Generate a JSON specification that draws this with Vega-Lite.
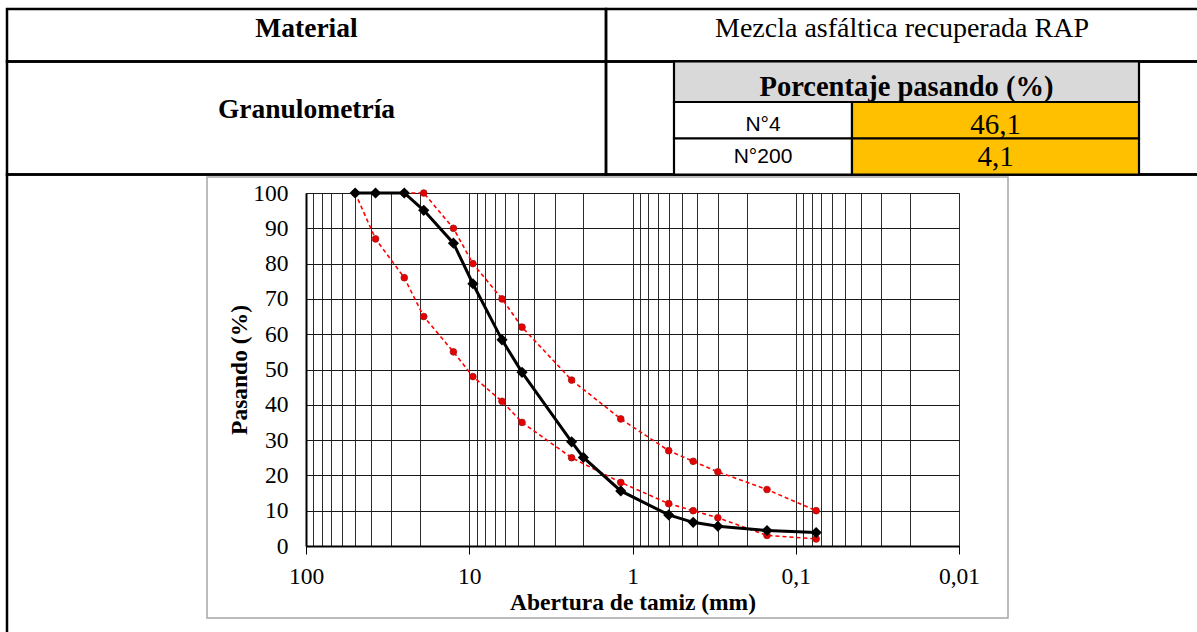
{
  "$schema": "https://vega.github.io/schema/vega-lite/v6.json",
  "width": 653,
  "height": 353,
  "autosize": {"type": "none"},
  "padding": {"left": 306, "top": 193, "right": 238, "bottom": 86},
  "background": "white",
  "config": {"view": {"stroke": "#808080", "strokeWidth": 1}},
  "resolve": {"scale": {"x": "independent", "y": "independent"}, "axis": {"x": "independent", "y": "independent"}},
  "layer": [
    {
      "layer": [
        {
          "data": {"values": [
            {"celda": "Material", "x0": 0, "x1": 3, "y0": 0, "y1": 2},
            {"celda": "Mezcla", "x0": 3, "x1": 12, "y0": 0, "y1": 2},
            {"celda": "Granulometría", "x0": 0, "x1": 3, "y0": 2, "y1": 9},
            {"celda": "Porcentaje", "x0": 3, "x1": 12, "y0": 2, "y1": 9},
            {"celda": "Gráfico", "x0": 0, "x1": 12, "y0": 9, "y1": 12}
          ]},
          "mark": {"type": "rect", "fill": "white", "fillOpacity": 0, "stroke": "black", "strokeWidth": 2.5},
          "encoding": {
            "x": {"field": "x0", "type": "quantitative", "axis": null, "scale": {"type": "linear", "domain": [0,1,2,3,4,5,6,7,8,9,10,11,12], "range": [-299,-99,0.5,300,368,457,546,596,600.5,689.5,702,833,909], "nice": false, "zero": false}},
            "x2": {"field": "x1"},
            "y": {"field": "y0", "type": "quantitative", "axis": null, "scale": {"type": "linear", "domain": [0,1,2,3,4,5,6,7,8,9,10,11,12], "range": [-184,-164.5,-131.5,-106.5,-91,-83,-68.5,-54.5,-36,-18.5,-16,425,457], "nice": false, "zero": false}},
            "y2": {"field": "y1"}
          }
        },
        {
          "data": {"values": [
            {"celda": "Marco del gráfico", "x0": 1, "x1": 10, "y0": 10, "y1": 11}
          ]},
          "mark": {"type": "rect", "fill": "white", "fillOpacity": 0, "stroke": "#A6A6A6", "strokeWidth": 1.5},
          "encoding": {
            "x": {"field": "x0", "type": "quantitative", "axis": null, "scale": {"type": "linear", "domain": [0,1,2,3,4,5,6,7,8,9,10,11,12], "range": [-299,-99,0.5,300,368,457,546,596,600.5,689.5,702,833,909], "nice": false, "zero": false}},
            "x2": {"field": "x1"},
            "y": {"field": "y0", "type": "quantitative", "axis": null, "scale": {"type": "linear", "domain": [0,1,2,3,4,5,6,7,8,9,10,11,12], "range": [-184,-164.5,-131.5,-106.5,-91,-83,-68.5,-54.5,-36,-18.5,-16,425,457], "nice": false, "zero": false}},
            "y2": {"field": "y1"}
          }
        },
        {
          "data": {"values": [
            {"celda": "Porcentaje pasando (%)", "rol": "encabezado", "x0": 4, "x1": 11, "y0": 2, "y1": 4},
            {"celda": "N°4", "rol": "tamiz", "x0": 4, "x1": 6, "y0": 4, "y1": 7},
            {"celda": "46,1", "rol": "valor", "x0": 6, "x1": 11, "y0": 4, "y1": 7},
            {"celda": "N°200", "rol": "tamiz", "x0": 4, "x1": 6, "y0": 7, "y1": 9},
            {"celda": "4,1", "rol": "valor", "x0": 6, "x1": 11, "y0": 7, "y1": 9}
          ]},
          "mark": {"type": "rect", "stroke": "black", "strokeWidth": 2.2, "opacity": 1},
          "encoding": {
            "x": {"field": "x0", "type": "quantitative", "axis": null, "scale": {"type": "linear", "domain": [0,1,2,3,4,5,6,7,8,9,10,11,12], "range": [-299,-99,0.5,300,368,457,546,596,600.5,689.5,702,833,909], "nice": false, "zero": false}},
            "x2": {"field": "x1"},
            "y": {"field": "y0", "type": "quantitative", "axis": null, "scale": {"type": "linear", "domain": [0,1,2,3,4,5,6,7,8,9,10,11,12], "range": [-184,-164.5,-131.5,-106.5,-91,-83,-68.5,-54.5,-36,-18.5,-16,425,457], "nice": false, "zero": false}},
            "y2": {"field": "y1"},
            "fill": {"field": "rol", "type": "nominal", "legend": null, "scale": {"domain": ["encabezado", "tamiz", "valor"], "range": ["#D9D9D9", "#FFFFFF", "#FFC000"]}}
          }
        },
        {
          "data": {"values": [
            {"texto": "Material", "xi": 2, "yi": 1},
            {"texto": "Granulometría", "xi": 2, "yi": 5}
          ]},
          "mark": {"type": "text", "font": "Liberation Serif", "fontWeight": "bold", "fontSize": 27.5, "align": "center", "baseline": "middle", "color": "black"},
          "encoding": {
            "x": {"field": "xi", "type": "quantitative", "axis": null, "scale": {"type": "linear", "domain": [0,1,2,3,4,5,6,7,8,9,10,11,12], "range": [-299,-99,0.5,300,368,457,546,596,600.5,689.5,702,833,909], "nice": false, "zero": false}},
            "y": {"field": "yi", "type": "quantitative", "axis": null, "scale": {"type": "linear", "domain": [0,1,2,3,4,5,6,7,8,9,10,11,12], "range": [-184,-164.5,-131.5,-106.5,-91,-83,-68.5,-54.5,-36,-18.5,-16,425,457], "nice": false, "zero": false}},
            "text": {"field": "texto"}
          }
        },
        {
          "data": {"values": [
            {"texto": "Mezcla asfáltica recuperada RAP", "xi": 7, "yi": 1}
          ]},
          "mark": {"type": "text", "font": "Liberation Serif", "fontSize": 28, "align": "center", "baseline": "middle", "color": "black"},
          "encoding": {
            "x": {"field": "xi", "type": "quantitative", "axis": null, "scale": {"type": "linear", "domain": [0,1,2,3,4,5,6,7,8,9,10,11,12], "range": [-299,-99,0.5,300,368,457,546,596,600.5,689.5,702,833,909], "nice": false, "zero": false}},
            "y": {"field": "yi", "type": "quantitative", "axis": null, "scale": {"type": "linear", "domain": [0,1,2,3,4,5,6,7,8,9,10,11,12], "range": [-184,-164.5,-131.5,-106.5,-91,-83,-68.5,-54.5,-36,-18.5,-16,425,457], "nice": false, "zero": false}},
            "text": {"field": "texto"}
          }
        },
        {
          "data": {"values": [
            {"texto": "Porcentaje pasando (%)", "xi": 8, "yi": 3}
          ]},
          "mark": {"type": "text", "font": "Liberation Serif", "fontWeight": "bold", "fontSize": 28.5, "align": "center", "baseline": "middle", "color": "black"},
          "encoding": {
            "x": {"field": "xi", "type": "quantitative", "axis": null, "scale": {"type": "linear", "domain": [0,1,2,3,4,5,6,7,8,9,10,11,12], "range": [-299,-99,0.5,300,368,457,546,596,600.5,689.5,702,833,909], "nice": false, "zero": false}},
            "y": {"field": "yi", "type": "quantitative", "axis": null, "scale": {"type": "linear", "domain": [0,1,2,3,4,5,6,7,8,9,10,11,12], "range": [-184,-164.5,-131.5,-106.5,-91,-83,-68.5,-54.5,-36,-18.5,-16,425,457], "nice": false, "zero": false}},
            "text": {"field": "texto"}
          }
        },
        {
          "data": {"values": [
            {"texto": "N°4", "xi": 5, "yi": 6},
            {"texto": "N°200", "xi": 5, "yi": 8}
          ]},
          "mark": {"type": "text", "font": "Liberation Sans", "fontSize": 21, "align": "center", "baseline": "middle", "color": "black"},
          "encoding": {
            "x": {"field": "xi", "type": "quantitative", "axis": null, "scale": {"type": "linear", "domain": [0,1,2,3,4,5,6,7,8,9,10,11,12], "range": [-299,-99,0.5,300,368,457,546,596,600.5,689.5,702,833,909], "nice": false, "zero": false}},
            "y": {"field": "yi", "type": "quantitative", "axis": null, "scale": {"type": "linear", "domain": [0,1,2,3,4,5,6,7,8,9,10,11,12], "range": [-184,-164.5,-131.5,-106.5,-91,-83,-68.5,-54.5,-36,-18.5,-16,425,457], "nice": false, "zero": false}},
            "text": {"field": "texto"}
          }
        },
        {
          "data": {"values": [
            {"texto": "46,1", "xi": 9, "yi": 6},
            {"texto": "4,1", "xi": 9, "yi": 8}
          ]},
          "mark": {"type": "text", "font": "Liberation Serif", "fontSize": 29, "align": "center", "baseline": "middle", "color": "black"},
          "encoding": {
            "x": {"field": "xi", "type": "quantitative", "axis": null, "scale": {"type": "linear", "domain": [0,1,2,3,4,5,6,7,8,9,10,11,12], "range": [-299,-99,0.5,300,368,457,546,596,600.5,689.5,702,833,909], "nice": false, "zero": false}},
            "y": {"field": "yi", "type": "quantitative", "axis": null, "scale": {"type": "linear", "domain": [0,1,2,3,4,5,6,7,8,9,10,11,12], "range": [-184,-164.5,-131.5,-106.5,-91,-83,-68.5,-54.5,-36,-18.5,-16,425,457], "nice": false, "zero": false}},
            "text": {"field": "texto"}
          }
        }
      ]
    },
    {
      "data": {"values": [
        {"serie": "RAP", "abertura": 50, "pasando": 100},
        {"serie": "RAP", "abertura": 37.5, "pasando": 100},
        {"serie": "RAP", "abertura": 25, "pasando": 100},
        {"serie": "RAP", "abertura": 19, "pasando": 95.1},
        {"serie": "RAP", "abertura": 12.5, "pasando": 85.8},
        {"serie": "RAP", "abertura": 9.5, "pasando": 74.3},
        {"serie": "RAP", "abertura": 6.3, "pasando": 58.4},
        {"serie": "RAP", "abertura": 4.75, "pasando": 49.2},
        {"serie": "RAP", "abertura": 2.36, "pasando": 29.5},
        {"serie": "RAP", "abertura": 2.0, "pasando": 25.1},
        {"serie": "RAP", "abertura": 1.18, "pasando": 15.6},
        {"serie": "RAP", "abertura": 0.6, "pasando": 8.8},
        {"serie": "RAP", "abertura": 0.425, "pasando": 6.7},
        {"serie": "RAP", "abertura": 0.3, "pasando": 5.6},
        {"serie": "RAP", "abertura": 0.15, "pasando": 4.4},
        {"serie": "RAP", "abertura": 0.075, "pasando": 3.8},
        {"serie": "Límite superior", "abertura": 25, "pasando": 100},
        {"serie": "Límite superior", "abertura": 19, "pasando": 100},
        {"serie": "Límite superior", "abertura": 12.5, "pasando": 90},
        {"serie": "Límite superior", "abertura": 9.5, "pasando": 80},
        {"serie": "Límite superior", "abertura": 6.3, "pasando": 70},
        {"serie": "Límite superior", "abertura": 4.75, "pasando": 62},
        {"serie": "Límite superior", "abertura": 2.36, "pasando": 47},
        {"serie": "Límite superior", "abertura": 1.18, "pasando": 36},
        {"serie": "Límite superior", "abertura": 0.6, "pasando": 27},
        {"serie": "Límite superior", "abertura": 0.425, "pasando": 24},
        {"serie": "Límite superior", "abertura": 0.3, "pasando": 21},
        {"serie": "Límite superior", "abertura": 0.15, "pasando": 16},
        {"serie": "Límite superior", "abertura": 0.075, "pasando": 10},
        {"serie": "Límite inferior", "abertura": 50, "pasando": 100},
        {"serie": "Límite inferior", "abertura": 37.5, "pasando": 87},
        {"serie": "Límite inferior", "abertura": 25, "pasando": 76},
        {"serie": "Límite inferior", "abertura": 19, "pasando": 65},
        {"serie": "Límite inferior", "abertura": 12.5, "pasando": 55},
        {"serie": "Límite inferior", "abertura": 9.5, "pasando": 48},
        {"serie": "Límite inferior", "abertura": 6.3, "pasando": 41},
        {"serie": "Límite inferior", "abertura": 4.75, "pasando": 35},
        {"serie": "Límite inferior", "abertura": 2.36, "pasando": 25},
        {"serie": "Límite inferior", "abertura": 1.18, "pasando": 18},
        {"serie": "Límite inferior", "abertura": 0.6, "pasando": 12},
        {"serie": "Límite inferior", "abertura": 0.425, "pasando": 10},
        {"serie": "Límite inferior", "abertura": 0.3, "pasando": 8},
        {"serie": "Límite inferior", "abertura": 0.15, "pasando": 3},
        {"serie": "Límite inferior", "abertura": 0.075, "pasando": 2}
      ]},
      "encoding": {
        "x": {
          "field": "abertura", "type": "quantitative",
          "scale": {"type": "log", "domain": [0.01, 100], "reverse": true, "nice": false},
          "axis": {
            "orient": "bottom",
            "title": "Abertura de tamiz (mm)",
            "values": [100, 90, 80, 70, 60, 50, 40, 30, 20, 10, 9, 8, 7, 6, 5, 4, 3, 2, 1, 0.9, 0.8, 0.7, 0.6, 0.5, 0.4, 0.3, 0.2, 0.1, 0.09, 0.08, 0.07, 0.06, 0.05, 0.04, 0.03, 0.02, 0.01],
            "labelExpr": "indexof([100, 10, 1, 0.1, 0.01], datum.value) >= 0 ? replace(toString(datum.value), '.', ',') : ''",
            "labelOverlap": false,
            "labelFlush": false,
            "labelFont": "Liberation Serif",
            "labelFontSize": 23.5,
            "labelColor": "black",
            "labelPadding": 10,
            "tickSize": 8,
            "tickColor": "black",
            "tickWidth": 1,
            "tickOpacity": {"condition": {"test": "indexof([100, 10, 1, 0.1, 0.01], datum.value) >= 0", "value": 1}, "value": 0},
            "domainColor": "black",
            "domainWidth": 2,
            "grid": true,
            "gridColor": "#2b2b2b",
            "gridWidth": 1,
            "gridOpacity": 1,
            "titleFont": "Liberation Serif",
            "titleFontWeight": "bold",
            "titleFontSize": 23.5,
            "titleColor": "black",
            "titlePadding": 3
          }
        },
        "y": {
          "field": "pasando", "type": "quantitative",
          "scale": {"domain": [0, 100], "nice": false},
          "axis": {
            "orient": "left",
            "title": "Pasando (%)",
            "values": [0, 10, 20, 30, 40, 50, 60, 70, 80, 90, 100],
            "labelFont": "Liberation Serif",
            "labelFontSize": 23.5,
            "labelColor": "black",
            "labelPadding": 18,
            "ticks": false,
            "tickSize": 0,
            "domainColor": "black",
            "domainWidth": 2,
            "grid": true,
            "gridColor": "#1a1a1a",
            "gridWidth": 1,
            "gridOpacity": 1,
            "titleFont": "Liberation Serif",
            "titleFontWeight": "bold",
            "titleFontSize": 23.5,
            "titleColor": "black",
            "titlePadding": 1
          }
        }
      },
      "layer": [
        {
          "transform": [{"filter": "datum.serie !== 'RAP'"}],
          "mark": {"type": "line", "color": "#FF0000", "strokeWidth": 1.6, "strokeDash": [4, 3]},
          "encoding": {"detail": {"field": "serie", "type": "nominal"}}
        },
        {
          "transform": [{"filter": "datum.serie !== 'RAP'"}],
          "mark": {"type": "circle", "size": 45, "fill": "#E80000", "stroke": "#9E1A1A", "strokeWidth": 0.8, "opacity": 1}
        },
        {
          "transform": [{"filter": "datum.serie === 'RAP'"}],
          "mark": {"type": "line", "color": "black", "strokeWidth": 3}
        },
        {
          "transform": [{"filter": "datum.serie === 'RAP'"}],
          "mark": {"type": "point", "shape": "diamond", "filled": true, "size": 125, "color": "black", "opacity": 1}
        }
      ]
    }
  ]
}
